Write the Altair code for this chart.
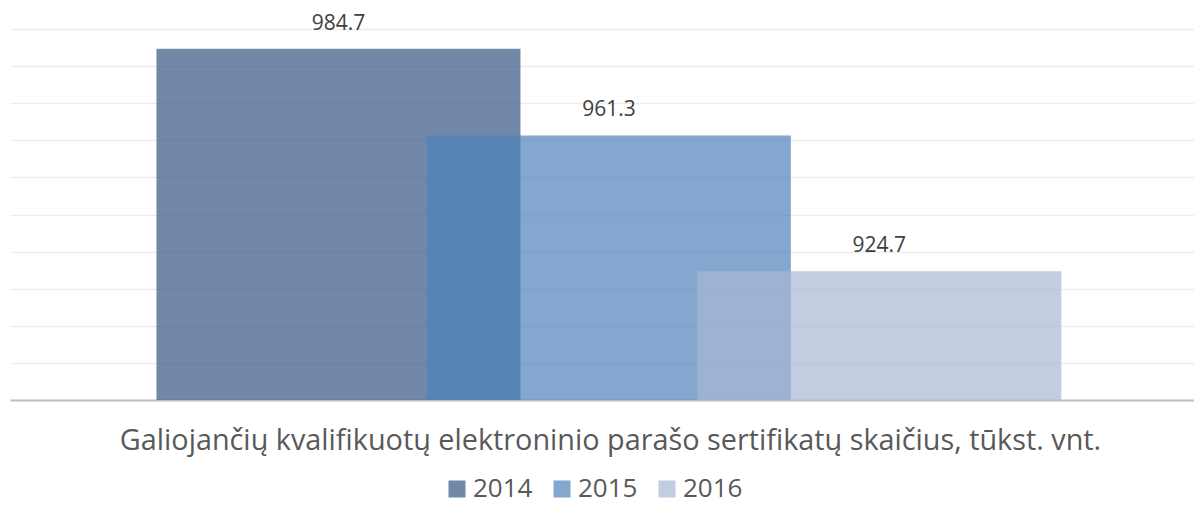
import altair as alt
import pandas as pd

years = [2014, 2015, 2016]
year_labels = ["2014", "2015", "2016"]
values = [984.7, 961.3, 924.7]
value_labels = ["984.7", "961.3", "924.7"]
colors = ["#345683", "#4f81ba", "#a8b8d6"]
x_title = "Galiojančių kvalifikuotų elektroninio parašo sertifikatų skaičius, tūkst. vnt."
grid_values = [900, 910, 920, 930, 940, 950, 960, 970, 980, 990]

df = pd.DataFrame({"year": years, "label": year_labels, "value": values, "text": value_labels})

FONT = "Open Sans"

x = alt.X("year:Q",
          scale=alt.Scale(domain=[2012.804, 2017.145], nice=False, zero=False),
          axis=alt.Axis(title=x_title, labels=False, ticks=False, grid=False,
                        domain=True, domainColor="#bfbfbf", domainWidth=2,
                        titleFont=FONT, titleFontSize=28.8, titleFontWeight="normal",
                        titleColor="#595959", titlePadding=26, titleX=600))
y = alt.Y("value:Q",
          scale=alt.Scale(domain=[890, 990], nice=False, zero=False),
          axis=alt.Axis(title=None, labels=False, ticks=False, domain=False,
                        grid=True, gridColor="#ededed", gridWidth=1.5, values=grid_values))

bars = alt.Chart(df).mark_bar(size=364, opacity=0.7, clip=True).encode(
    x=x, y=y,
    color=alt.Color("label:N",
                    scale=alt.Scale(domain=year_labels, range=colors),
                    legend=alt.Legend(title=None, orient="none", direction="horizontal",
                                      legendX=434, legendY=447,
                                      symbolType="square", symbolSize=289,
                                      symbolOpacity=0.7, symbolStrokeWidth=0,
                                      labelFont=FONT, labelFontSize=26, labelColor="#595959",
                                      columnPadding=16, labelOffset=3)),
    order=alt.Order("year:Q"),
)

labels = alt.Chart(df).mark_text(baseline="bottom", dy=-15, font=FONT, fontSize=21,
                                 color="#404040").encode(
    x="year:Q", y="value:Q", text="text:N")

chart = alt.layer(bars, labels).properties(
    width=1184, height=371,
    autosize=alt.AutoSizeParams(type="none"),
    padding={"left": 2, "top": 21, "right": 0, "bottom": 105},
).configure_view(stroke=None)

chart.save("out.html", embed_options={"renderer": "svg", "actions": False})
